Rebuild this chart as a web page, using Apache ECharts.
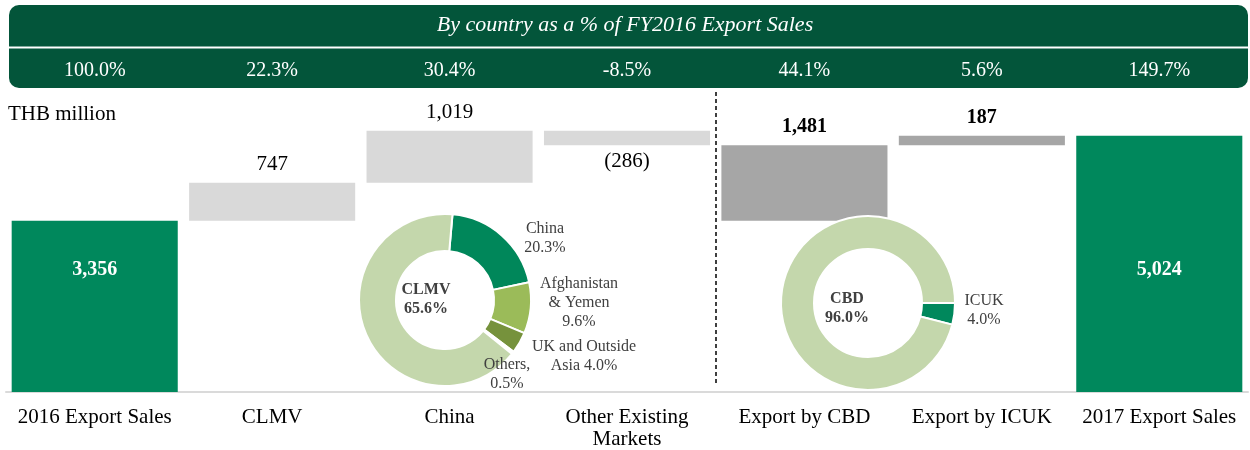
<!DOCTYPE html>
<html>
<head>
<meta charset="utf-8">
<script src="https://cdn.jsdelivr.net/npm/echarts@6/dist/echarts.min.js"></script>
<style>
html, body { margin: 0; padding: 0; background: #fff; }
#main { width: 1250px; height: 450px; }
</style>
</head>
<body>
<div id="main"></div>
<script>
// 数据
var categories = ['2016 Export Sales', 'CLMV', 'China', 'Other Existing\nMarkets', 'Export by CBD', 'Export by ICUK', '2017 Export Sales'];
var values = [3356, 747, 1019, -286, 1481, 187, 5024];
var shareOfFY2016 = ['100.0%', '22.3%', '30.4%', '-8.5%', '44.1%', '5.6%', '149.7%'];
// total = full bar, left = first bridge (by market), right = second bridge (by company)
var barKinds = ['total', 'left', 'left', 'left', 'right', 'right', 'total'];

var clmvNames = ['China', 'Afghanistan\n& Yemen', 'UK and Outside\nAsia', 'Others,', 'CLMV'];
var clmvShares = [20.3, 9.6, 4.0, 0.5, 65.6];
var cbdNames = ['ICUK', 'CBD'];
var cbdShares = [4.0, 96.0];

var FONT = '"Liberation Serif", "Times New Roman", serif';
var GREEN = '#00885C';
var DARK = '#03553A';
var colorOf = { total: GREEN, left: '#D9D9D9', right: '#A6A6A6' };

// 瀑布图：透明底座 + 可见柱
var bases = [], heights = [];
var run = { left: values[0], right: values[0] };
values.forEach(function (v, i) {
    var k = barKinds[i];
    if (k === 'total') { bases.push(0); heights.push(v); return; }
    var next = run[k] + v;
    bases.push(Math.min(run[k], next));
    heights.push(Math.abs(v));
    run[k] = next;
});

function fmt(v) {
    var s = Math.abs(v).toString().replace(/(\d)(?=(\d{3})+$)/g, '$1,');
    return v < 0 ? '(' + s + ')' : s;
}

var barData = heights.map(function (h, i) {
    var k = barKinds[i];
    var label;
    if (k === 'total') {
        label = { position: 'insideBottom', distance: 112, color: '#fff', fontWeight: 'bold', fontSize: 20 };
    } else if (values[i] < 0) {
        label = { position: 'bottom', distance: 6, fontSize: 21 };
    } else if (k === 'right') {
        label = { position: 'top', distance: 8, fontWeight: 'bold', fontSize: 20 };
    } else {
        label = { position: 'top', distance: 8, fontSize: 21 };
    }
    return { value: h, itemStyle: { color: colorOf[k] }, label: label };
});

var clmvJoin = ['\n', '\n', ' ', '\n', '\n'];
var clmvLabelPos = [[545, 238], [579, 303], [584, 356], [507, 374], [426, 299]];
var cbdLabelPos = [[984, 310], [847, 308]];
var clmvColors = ['#00875A', '#9BBB59', '#76923C', '#FFFFFF', '#C4D7AC'];
var cbdColors = [GREEN, '#C4D7AC'];

var myChart = echarts.init(document.getElementById('main'));
var option = {
    animation: false,
    title: [
        {
            text: 'By country as a % of FY2016 Export Sales',
            left: 'center', top: 9,
            textStyle: { color: '#fff', fontStyle: 'italic', fontWeight: 'normal', fontSize: 22, fontFamily: FONT }
        },
        {
            text: 'THB million',
            left: 3, top: 99,
            textStyle: { color: '#000', fontWeight: 'normal', fontSize: 21, fontFamily: FONT }
        }
    ],
    graphic: [
        { type: 'rect', z: -10, shape: { x: 9, y: 5, width: 1239, height: 83, r: 10 }, style: { fill: DARK } },
        { type: 'line', z: -9, shape: { x1: 9, y1: 47.5, x2: 1248, y2: 47.5 }, style: { stroke: '#fff', lineWidth: 2 } },
        { type: 'line', shape: { x1: 716, y1: 92, x2: 716, y2: 386 }, style: { stroke: '#000', lineWidth: 1.5, lineDash: [4, 3] } }
    ],
    grid: { left: 6, right: 2, top: 86, bottom: 58 },
    xAxis: [
        {
            type: 'category',
            data: categories,
            axisLine: { lineStyle: { color: '#DADADA', width: 2 } },
            axisTick: { show: false },
            axisLabel: { interval: 0, margin: 14, color: '#000', fontSize: 21, fontFamily: FONT, lineHeight: 22 }
        },
        {
            type: 'category',
            position: 'top',
            z: 10,
            data: shareOfFY2016,
            axisLine: { show: false },
            axisTick: { show: false },
            axisLabel: { interval: 0, margin: 5, color: '#fff', fontSize: 20, fontFamily: FONT }
        }
    ],
    yAxis: { type: 'value', min: 0, max: 6000, show: false },
    series: [
        {
            type: 'bar', stack: 'w', barWidth: '93.6%', silent: true,
            itemStyle: { color: 'transparent' },
            data: bases
        },
        {
            type: 'bar', stack: 'w', barWidth: '93.6%',
            label: {
                show: true, color: '#000', fontFamily: FONT,
                formatter: function (p) { return fmt(values[p.dataIndex]); }
            },
            data: barData
        },
        {
            type: 'pie',
            center: [445, 300],
            radius: [49, 86],
            startAngle: 85,
            avoidLabelOverlap: false,
            itemStyle: { borderColor: '#fff', borderWidth: 2 },
            label: {
                color: '#404040', fontSize: 16, lineHeight: 19, fontFamily: FONT,
                formatter: function (p) { return p.name + clmvJoin[p.dataIndex] + p.value.toFixed(1) + '%'; }
            },
            labelLine: { show: false },
            labelLayout: function (p) {
                var xy = clmvLabelPos[p.dataIndex];
                return { x: xy[0], y: xy[1], align: 'center', verticalAlign: 'middle' };
            },
            data: clmvNames.map(function (n, i) {
                var d = { name: n, value: clmvShares[i], itemStyle: { color: clmvColors[i] } };
                if (n === 'CLMV') d.label = { fontWeight: 'bold' };
                return d;
            })
        },
        {
            type: 'pie',
            center: [868, 303],
            radius: [54, 87],
            startAngle: 0,
            avoidLabelOverlap: false,
            itemStyle: { borderColor: '#fff', borderWidth: 2 },
            label: {
                color: '#404040', fontSize: 16, lineHeight: 19, fontFamily: FONT,
                formatter: function (p) { return p.name + '\n' + p.value.toFixed(1) + '%'; }
            },
            labelLine: { show: false },
            labelLayout: function (p) {
                var xy = cbdLabelPos[p.dataIndex];
                return { x: xy[0], y: xy[1], align: 'center', verticalAlign: 'middle' };
            },
            data: cbdNames.map(function (n, i) {
                var d = { name: n, value: cbdShares[i], itemStyle: { color: cbdColors[i] } };
                if (n === 'CBD') d.label = { fontWeight: 'bold' };
                return d;
            })
        }
    ]
};
option && myChart.setOption(option);
</script>
</body>
</html>
